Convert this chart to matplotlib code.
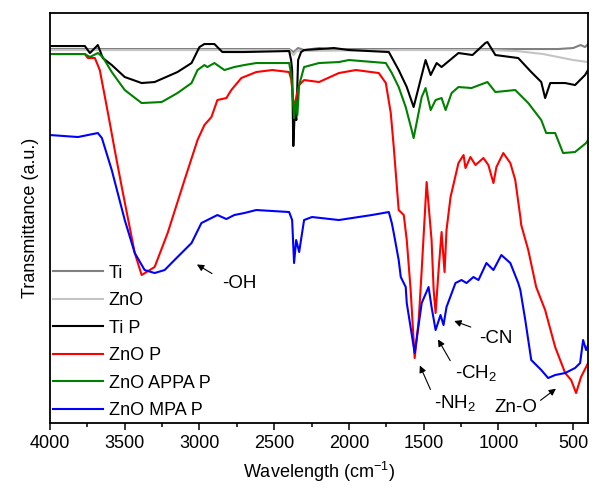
import matplotlib
matplotlib.use("Agg")
import matplotlib.pyplot as plt
from matplotlib.ticker import MultipleLocator

plt.rcParams.update({
    "font.family": ["Liberation Sans", "DejaVu Sans"], "font.size": 13,
    "mathtext.fontset": "custom", "mathtext.rm": "Liberation Sans",
    "mathtext.it": "Liberation Sans", "mathtext.default": "regular",
})

# FTIR spectra, wavenumber (cm-1) vs transmittance (arbitrary units, curves offset)
ti_w = [4000, 3000, 2400, 2370, 2340, 2300, 2200, 2100, 2000, 1500, 1000, 600, 500, 450, 420, 400]
ti_t = [374, 374, 374, 371, 375, 373, 375, 373, 374, 374, 374, 374, 375, 378, 376, 379]

zno_w = [4000, 2400, 2370, 2350, 1700, 1050, 880, 700, 600, 500, 450, 400]
zno_t = [373, 373, 368, 372, 373, 373, 372, 369, 366, 363, 362, 361]

tip_w = [4000, 3767, 3733, 3680, 3647, 3587, 3500, 3387, 3300, 3147, 3053, 3000, 2967, 2900,
         2847, 2700, 2400, 2387, 2380, 2372, 2362, 2352, 2340, 2320, 2300, 2200, 2100, 2000,
         1733, 1667, 1613, 1567, 1487, 1453, 1413, 1380, 1267, 1173, 1087, 1073, 1020, 867,
         780, 713, 687, 653, 553, 487, 420, 400]
tip_t = [377, 377, 370, 378, 365, 358, 346, 340, 341, 351, 360, 376, 379, 379,
         371, 371, 372, 363, 353, 277, 313, 303, 363, 371, 373, 374, 375, 373,
         371, 353, 336, 316, 363, 348, 360, 356, 370, 368, 380, 381, 368, 365,
         351, 341, 325, 340, 340, 338, 348, 353]

znop_w = [4000, 3767, 3747, 3700, 3667, 3620, 3600, 3567, 3520, 3433, 3387, 3300, 3213, 3100,
          3013, 2967, 2920, 2880, 2820, 2787, 2720, 2620, 2513, 2400, 2385, 2367, 2350, 2333,
          2300, 2200, 2067, 1953, 1800, 1753, 1720, 1700, 1667, 1633, 1613, 1587, 1560, 1533,
          1513, 1480, 1447, 1433, 1420, 1400, 1380, 1360, 1347, 1320, 1267, 1233, 1220, 1187,
          1153, 1100, 1067, 1033, 1013, 967, 920, 887, 853, 847, 800, 747, 687, 620, 553, 513,
          480, 447, 413, 400]
znop_t = [369, 369, 365, 365, 353, 316, 300, 273, 236, 170, 148, 156, 190, 243,
          283, 298, 306, 323, 325, 333, 345, 351, 353, 351, 343, 313, 328, 338,
          343, 341, 350, 353, 350, 340, 310, 276, 213, 208, 183, 133, 65, 103,
          153, 241, 183, 133, 110, 153, 191, 151, 193, 226, 260, 268, 255, 266,
          258, 265, 258, 240, 256, 270, 260, 243, 206, 198, 173, 136, 113, 76, 50, 43,
          30, 46, 56, 60]

appa_w = [4000, 3767, 3733, 3680, 3647, 3587, 3500, 3387, 3253, 3147, 3053, 3013, 2967, 2947,
          2900, 2833, 2767, 2700, 2620, 2400, 2385, 2367, 2355, 2345, 2333, 2300, 2200, 2067,
          2000, 1753, 1713, 1667, 1620, 1580, 1567, 1513, 1487, 1453, 1420, 1380, 1353, 1313,
          1267, 1180, 1073, 1020, 887, 800, 713, 680, 620, 567, 487, 413, 400]
appa_t = [369, 369, 366, 370, 366, 351, 333, 320, 321, 330, 340, 353, 358, 356,
          360, 353, 356, 358, 360, 360, 348, 305, 323, 308, 338, 356, 360, 361,
          363, 360, 350, 336, 316, 293, 285, 326, 335, 313, 323, 325, 313, 330,
          336, 335, 341, 331, 333, 320, 303, 290, 290, 270, 271, 280, 283]

mpa_w = [4000, 3813, 3747, 3680, 3653, 3587, 3500, 3433, 3367, 3300, 3233, 3147, 3053, 2987,
         2920, 2880, 2820, 2767, 2700, 2620, 2400, 2380, 2367, 2353, 2333, 2300, 2247, 2067,
         1847, 1733, 1713, 1700, 1667, 1653, 1620, 1613, 1560, 1513, 1467, 1447, 1420, 1387,
         1367, 1347, 1287, 1247, 1213, 1167, 1133, 1080, 1033, 980, 920, 867, 853, 820, 780,
         713, 667, 620, 553, 487, 453, 433, 413, 400]
mpa_t = [288, 286, 288, 290, 285, 253, 203, 170, 153, 150, 153, 166, 180, 200,
         205, 208, 204, 208, 210, 213, 211, 203, 160, 183, 171, 203, 206, 203,
         208, 211, 200, 190, 163, 146, 136, 120, 70, 120, 136, 116, 93, 108,
         98, 116, 140, 143, 140, 146, 143, 160, 153, 168, 160, 140, 133, 103, 63,
         53, 45, 48, 50, 55, 60, 83, 73, 78]

series = [
    ("Ti", ti_w, ti_t, "#808080"),
    ("ZnO", zno_w, zno_t, "#c4c4c4"),
    ("Ti P", tip_w, tip_t, "black"),
    ("ZnO P", znop_w, znop_t, "red"),
    ("ZnO APPA P", appa_w, appa_t, "#008000"),
    ("ZnO MPA P", mpa_w, mpa_t, "blue"),
]

fig = plt.figure(figsize=(5.92, 4.9), dpi=100)
ax = fig.add_axes([0.0845, 0.1367, 0.9088, 0.8367])
for label, w, t, c in series:
    ax.plot(w, t, color=c, lw=1.5, label=label)

ax.set_xlim(4000, 400)
ax.set_ylim(0, 410)
ax.set_yticks([])
ax.xaxis.set_major_locator(MultipleLocator(500))
ax.xaxis.set_minor_locator(MultipleLocator(250))
ax.tick_params(axis="x", which="major", direction="out", length=5, width=1.1, labelsize=13)
ax.tick_params(axis="x", which="minor", direction="out", length=3, width=1.1)
for s in ax.spines.values():
    s.set_linewidth(1.3)
ax.set_xlabel("Wavelength (cm$^{-1}$)", fontsize=13, labelpad=6)
ax.set_ylabel("Transmittance (a.u.)", fontsize=13, labelpad=8)

ax.legend(loc="upper left", bbox_to_anchor=(0.005, 0.386), frameon=False, fontsize=13,
          handlelength=2.8, handletextpad=0.3, labelspacing=0.58, borderpad=0, borderaxespad=0)

arrow = dict(arrowstyle="-|>", color="black", lw=0.8, mutation_scale=10)
notes = [
    ("-OH", (2733, 140), (2900, 148), (3033, 160)),
    ("-CN", (1020, 85), (1167, 95), (1313, 103)),
    ("-CH$_2$", (1147, 50), (1313, 60), (1413, 86)),
    ("-NH$_2$", (1287, 20), (1447, 31), (1533, 60)),
    ("Zn-O", (880, 16), (733, 21), (600, 36)),
]
for txt, pos, tail, head in notes:
    ax.text(pos[0], pos[1], txt, ha="center", va="center", fontsize=13.5)
    ax.annotate("", xy=head, xytext=tail, arrowprops=arrow)

fig.savefig("out.png", dpi=100)
